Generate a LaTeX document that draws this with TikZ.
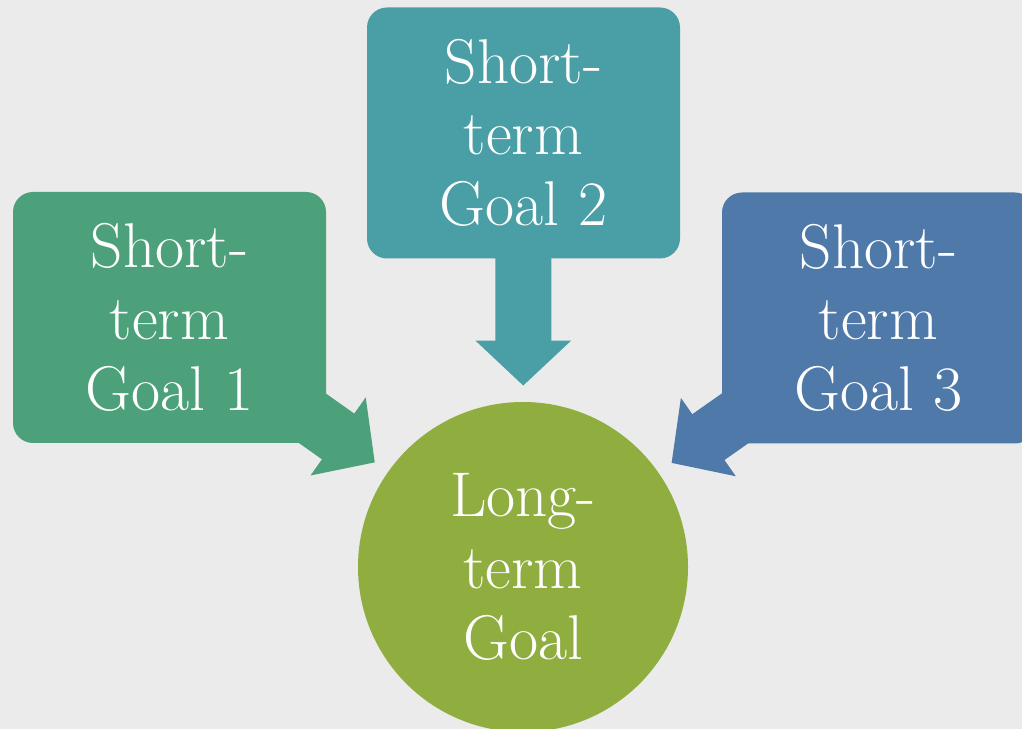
\documentclass[tikz,border=0pt]{standalone}
\usepackage{tikz}
\usetikzlibrary{arrows.meta,positioning}
\definecolor{paper}{HTML}{EBEBEB}
\definecolor{one}{HTML}{4CA07A}
\definecolor{two}{HTML}{4A9FA6}
\definecolor{three}{HTML}{4E79A8}
\definecolor{long}{HTML}{90AD40}
\pgfdeclarelayer{paperlayer}
\pgfdeclarelayer{arrowlayer}
\pgfsetlayers{paperlayer,arrowlayer,main}
\tikzset{
    goal/.style={rectangle, rounded corners=0.4cm, minimum width=6.26cm,
        minimum height=5.02cm, inner sep=0pt, text=white, align=center,
        font=\fontsize{36}{40.5}\selectfont},
    longgoal/.style={circle, minimum size=6.6cm, inner sep=0pt, text=white,
        align=center, font=\fontsize{36}{40.5}\selectfont},
    fat/.style={line width=1.12cm, -{Triangle[width=1.86cm,length=0.9cm]},
        shorten <=-1cm, shorten >=0.32cm}
}

\begin{document}
\begin{tikzpicture}
        \useasboundingbox (0,0) rectangle (20.44,14.58);
        \begin{pgfonlayer}{paperlayer}
            \fill[paper] (0,0) rectangle (20.44,14.58);
        \end{pgfonlayer}

        \node[longgoal, fill=long] (lt) at (10.46,3.24) {Long-\\term\\Goal};
        \node[goal, fill=one] (g1) at (3.39,8.23) {Short-\\term\\Goal 1};
        \node[goal, fill=two] (g2) at (10.47,11.92) {Short-\\term\\Goal 2};
        \node[goal, fill=three] (g3) at (17.57,8.22) {Short-\\term\\Goal 3};

        \begin{pgfonlayer}{arrowlayer}
            \draw[fat, draw=one] (g1) -- (lt);
            \draw[fat, draw=two] (g2) -- (lt);
            \draw[fat, draw=three] (g3) -- (lt);
        \end{pgfonlayer}
\end{tikzpicture}
\end{document}
